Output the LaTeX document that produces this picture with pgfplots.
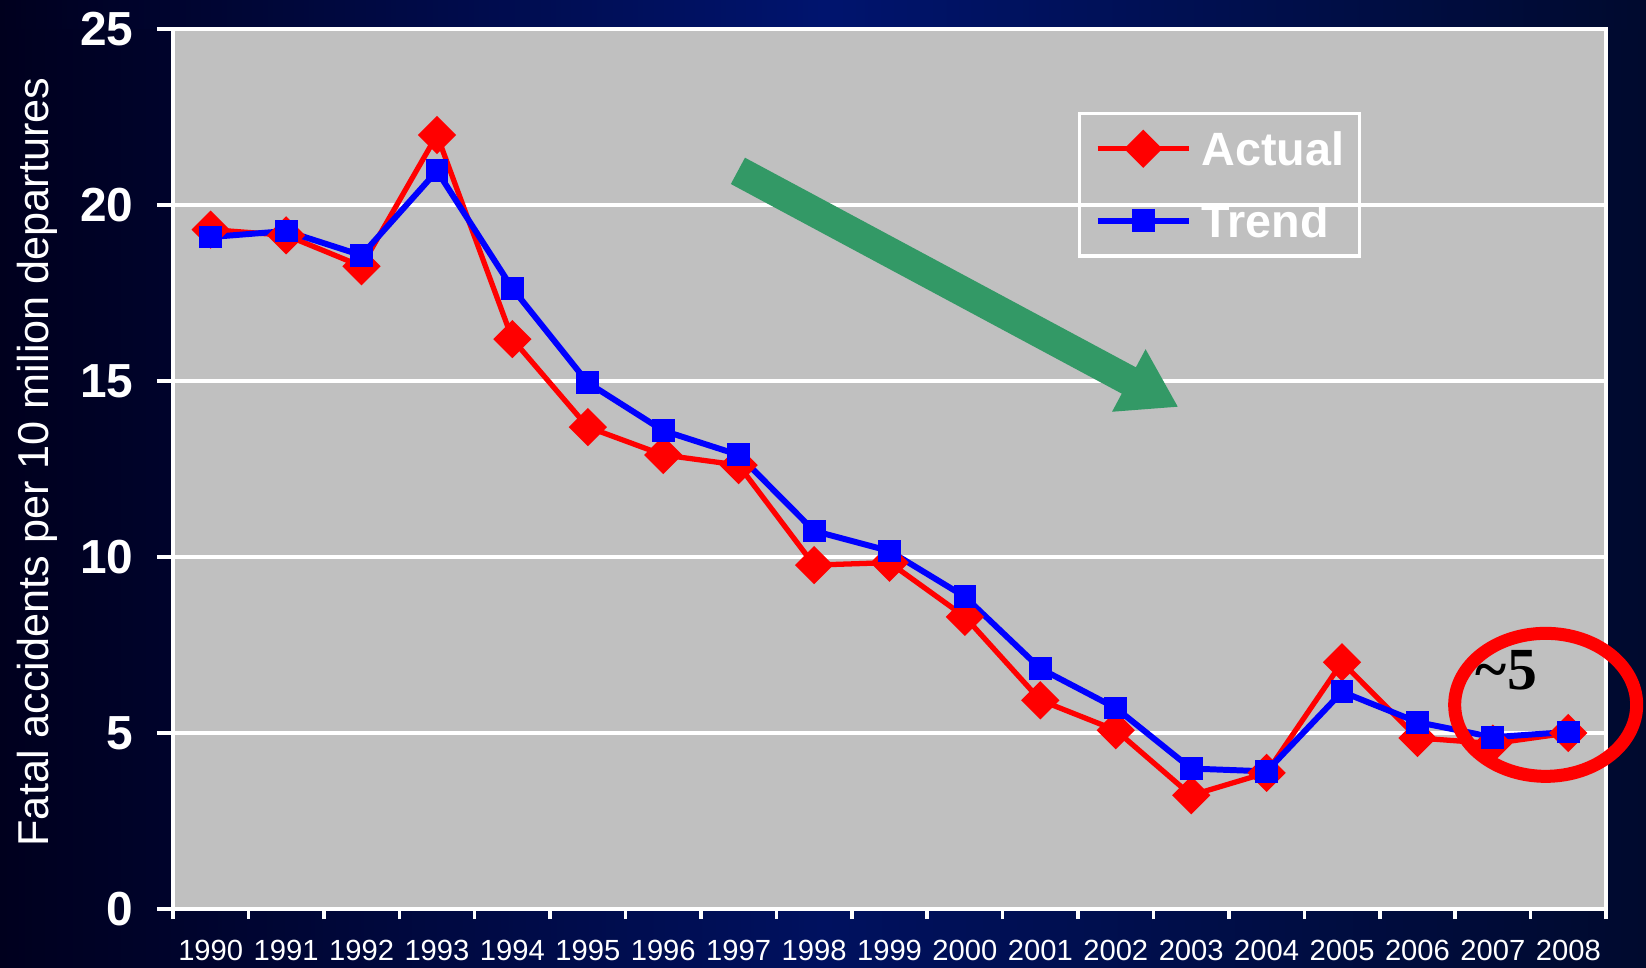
\documentclass[border=0pt]{standalone}
\usepackage{fontspec}
\setmainfont{Liberation Sans}
\newfontfamily\serifb{Liberation Serif}
\usepackage{pgfplots}
\pgfplotsset{compat=1.18}
\usetikzlibrary{arrows.meta}

\definecolor{navy}{HTML}{00115F}
\definecolor{navytop}{HTML}{00146E}
\definecolor{navydark}{HTML}{00001E}
\definecolor{navyright}{HTML}{000A2E}
\definecolor{plotgray}{HTML}{C0C0C0}
\definecolor{arrowgreen}{HTML}{339966}

% year index, actual rate, trend
\pgfplotstableread{
idx actual trend
0  19.30 19.09
1  19.14 19.26
2  18.26 18.57
3  21.99 20.97
4  16.19 17.63
5  13.69 14.95
6  12.90 13.59
7  12.61 12.90
8   9.77 10.74
9   9.84 10.17
10  8.30  8.87
11  5.93  6.83
12  5.08  5.71
13  3.23  3.99
14  3.87  3.91
15  7.01  6.17
16  4.86  5.31
17  4.70  4.88
18  5.00  5.03
}\fataltable

\begin{document}
\begin{tikzpicture}
\useasboundingbox (0,0) rectangle (16.46,9.67);
\shade[left color=navydark, right color=navyright, middle color=navy] (0,0) rectangle (16.46,9.67);
\shade[left color=navydark, right color=navyright, middle color=navytop] (0,9.38) rectangle (16.46,9.67);
\begin{axis}[
    at={(1.73cm,0.58cm)}, anchor=south west,
    width=14.33cm, height=8.80cm, scale only axis,
    xmin=-0.5, xmax=18.5, ymin=0, ymax=25,
    clip=false,
    axis background/.style={fill=plotgray},
    axis line style={white, line width=1.2pt},
    /pgf/number format/assume math mode=true,
    xtick={0,...,18},
    xticklabels={1990,1991,1992,1993,1994,1995,1996,1997,1998,1999,2000,2001,2002,2003,2004,2005,2006,2007,2008},
    minor xtick={-0.5,0.5,...,18.5},
    ytick={0,5,10,15,20,25},
    tick pos=left,
    tick align=outside,
    major tick length=0.16cm, minor tick length=0.1cm,
    major x tick style={draw=none},
    minor x tick style={white, line width=1pt},
    ytick style={white, line width=1pt},
    ymajorgrids,
    grid style={white, line width=0.9pt},
    xticklabel style={text=white, font=\fontsize{8.3}{9}\selectfont, yshift=-0.03cm},
    yticklabel style={text=white, font=\bfseries\fontsize{13.6}{14}\selectfont, xshift=-0.11cm},
    ylabel={Fatal accidents per 10 milion departures},
    ylabel style={at={(axis description cs:-0.0949,0.508)}, anchor=center,
        text=white, font=\fontsize{12.3}{13}\selectfont},
    legend style={at={(axis description cs:0.6315,0.9057)}, anchor=north west,
        draw=white, line width=1pt, fill=none, text=white,
        font=\bfseries\fontsize{13.3}{14}\selectfont,
        inner xsep=0.15cm, inner ysep=0.11cm, row sep=0.24cm,
        nodes={inner xsep=0pt, inner ysep=0.05cm, text height=0.36cm, text depth=0.02cm},
        /tikz/every odd column/.append style={column sep=0.1cm}},
    legend cell align=left,
    legend image code/.code={
        \draw[mark repeat=2,mark phase=2,#1]
            plot coordinates {(0cm,0cm) (0.455cm,0cm) (0.91cm,0cm)};
    },
]
\addplot[red, line width=1.5pt, mark=square*, mark size=3.1pt,
    mark options={rotate=45, solid}] table[x=idx, y=actual] {\fataltable};
\addlegendentry{Actual}
\addplot[blue, line width=1.7pt, mark=square*, mark size=2.4pt,
    mark options={solid}] table[x=idx, y=trend] {\fataltable};
\addlegendentry{Trend}

\draw[arrowgreen, line width=8.5pt, -{Triangle[width=19pt,length=16pt]}]
    (axis cs:6.99,20.97) -- (axis cs:12.83,14.26);
\draw[red, line width=3.7pt]
    (axis cs:17.70,5.80) ellipse [x radius=0.91cm, y radius=0.715cm];
\node[text=black, font=\serifb\bfseries\fontsize{17}{17}\selectfont]
    at (axis cs:17.18,6.79) {\textasciitilde 5};
\end{axis}
\end{tikzpicture}
\end{document}
